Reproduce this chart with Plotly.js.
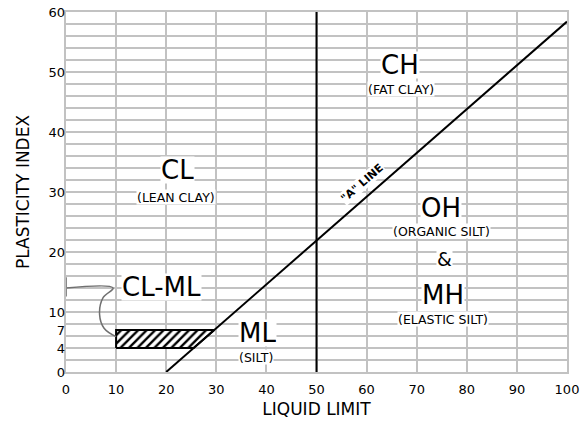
<!DOCTYPE html>
<html>
<head>
<meta charset="utf-8">
<script src="https://cdn.plot.ly/plotly-3.0.1.min.js"></script>
<style>html,body{margin:0;padding:0;background:#fff;}#chart{width:587px;height:425px;}</style>
</head>
<body>
<div id="chart"></div>
<script>
// Data (liquid limit LL, plasticity index PI)
var aLineLL = [20, 100];
var aLineSlope = 0.73;
var uLineLL = [50, 50];
var uLinePI = [0, 60];
var hatchLL = [10, 10, 29.59, 25.48, 10];
var hatchPI = [4, 7, 7, 4, 4];
var leaderLL = [0, 9.4, 7.4, 6.7, 7.6, 10];
var leaderPI = [14, 14, 12.4, 9.6, 7.3, 5.9];
var capLL = [0, 0];
var capPI = [12.6, 15.8];
var yTickVals = [0, 4, 7, 10, 20, 30, 40, 50, 60];
var xTickVals = [0, 10, 20, 30, 40, 50, 60, 70, 80, 90, 100];
var bigLabels = ['CL', 'CH', 'OH', 'MH', 'ML', 'CL-ML'];
var bigLL = [22.2, 66.6, 74.8, 75.3, 38.2, 19.1];
var bigPI = [33.7, 51.2, 27.3, 12.8, 6.5, 14.2];
var smallLabels = ['(LEAN CLAY)', '(FAT CLAY)', '(ORGANIC SILT)', '(ELASTIC SILT)', '(SILT)'];
var smallLL = [22.0, 66.9, 74.9, 75.3, 38.0];
var smallPI = [29.2, 47.2, 23.5, 8.8, 2.5];
var ampLL = 75.5, ampPI = 18.8;
var aLabelLL = 59.0, aLabelPI = 31.5;

var aLinePI = aLineLL.map(function (v) { return aLineSlope * (v - 20); });

var FONT = 'DejaVu Sans, Verdana, sans-serif';
var GRID = '#c2c2c2';

var traces = [
  { x: hatchLL, y: hatchPI, mode: 'lines', fill: 'toself', fillcolor: 'white',
    fillpattern: { shape: '/', fgcolor: 'black', bgcolor: 'white', size: 6, solidity: 0.4 },
    line: { color: 'black', width: 2 }, hoverinfo: 'skip', showlegend: false },
  { x: leaderLL, y: leaderPI, mode: 'lines', line: { color: '#707070', width: 1.5, shape: 'spline', smoothing: 1.1 },
    hoverinfo: 'skip', showlegend: false },
  { x: capLL, y: capPI, mode: 'lines', line: { color: '#8a8a8a', width: 2 },
    hoverinfo: 'skip', showlegend: false },
  { x: aLineLL, y: aLinePI, mode: 'lines', line: { color: 'black', width: 2 },
    hoverinfo: 'skip', showlegend: false },
  { x: uLineLL, y: uLinePI, mode: 'lines', line: { color: 'black', width: 2 },
    hoverinfo: 'skip', showlegend: false }
];

var ann = [];
bigLabels.forEach(function (t, i) {
  ann.push({ x: bigLL[i], y: bigPI[i], xref: 'x', yref: 'y', text: t, showarrow: false, height: 26,
    font: { family: FONT, size: 26, color: 'black' }, bgcolor: 'white', borderpad: 0 });
});
smallLabels.forEach(function (t, i) {
  ann.push({ x: smallLL[i], y: smallPI[i], xref: 'x', yref: 'y', text: t, showarrow: false, height: 14,
    font: { family: FONT, size: 12.5, color: 'black' }, bgcolor: 'white', borderpad: 0 });
});
ann.push({ x: ampLL, y: ampPI, xref: 'x', yref: 'y', text: '&', showarrow: false,
  font: { family: FONT, size: 19, color: 'black' }, bgcolor: 'white', borderpad: 0 });
ann.push({ x: aLabelLL, y: aLabelPI, xref: 'x', yref: 'y', text: '<b>"A" LINE</b>', showarrow: false,
  textangle: -41, font: { family: FONT, size: 11, color: 'black' }, bgcolor: 'white', borderpad: 0 });

var layout = {
  width: 587, height: 425,
  margin: { l: 66, r: 20, t: 12, b: 53 },
  paper_bgcolor: 'white', plot_bgcolor: 'white',
  showlegend: false,
  xaxis: {
    range: [0, 100], tickvals: xTickVals, showgrid: true, gridcolor: GRID, gridwidth: 2,
    zeroline: false, showline: true, linecolor: GRID, linewidth: 2, mirror: true,
    ticks: '', ticklabelstandoff: 4, tickfont: { family: FONT, size: 13, color: '#000' },
    title: { text: 'LIQUID LIMIT', font: { family: FONT, size: 17, color: 'black' }, standoff: 8 },
    fixedrange: true
  },
  yaxis: {
    range: [0, 60], dtick: 2, tick0: 0, showgrid: true, gridcolor: GRID, gridwidth: 2,
    zeroline: false, showline: true, linecolor: GRID, linewidth: 2, mirror: true,
    showticklabels: false, ticks: '', fixedrange: true
  },
  yaxis2: {
    overlaying: 'y', side: 'left', anchor: 'x', range: [0, 60], tickvals: yTickVals,
    showgrid: false, zeroline: false, ticks: '', showline: false,
    tickfont: { family: FONT, size: 13, color: '#000' },
    title: { text: 'PLASTICITY INDEX', font: { family: FONT, size: 17, color: 'black' }, standoff: 14 },
    fixedrange: true
  },
  annotations: ann
};

// invisible trace to activate yaxis2
traces.push({ x: [0], y: [0], yaxis: 'y2', mode: 'markers', marker: { opacity: 0 }, hoverinfo: 'skip', showlegend: false });

Plotly.newPlot('chart', traces, layout, { staticPlot: true, displayModeBar: false });
</script>
</body>
</html>
